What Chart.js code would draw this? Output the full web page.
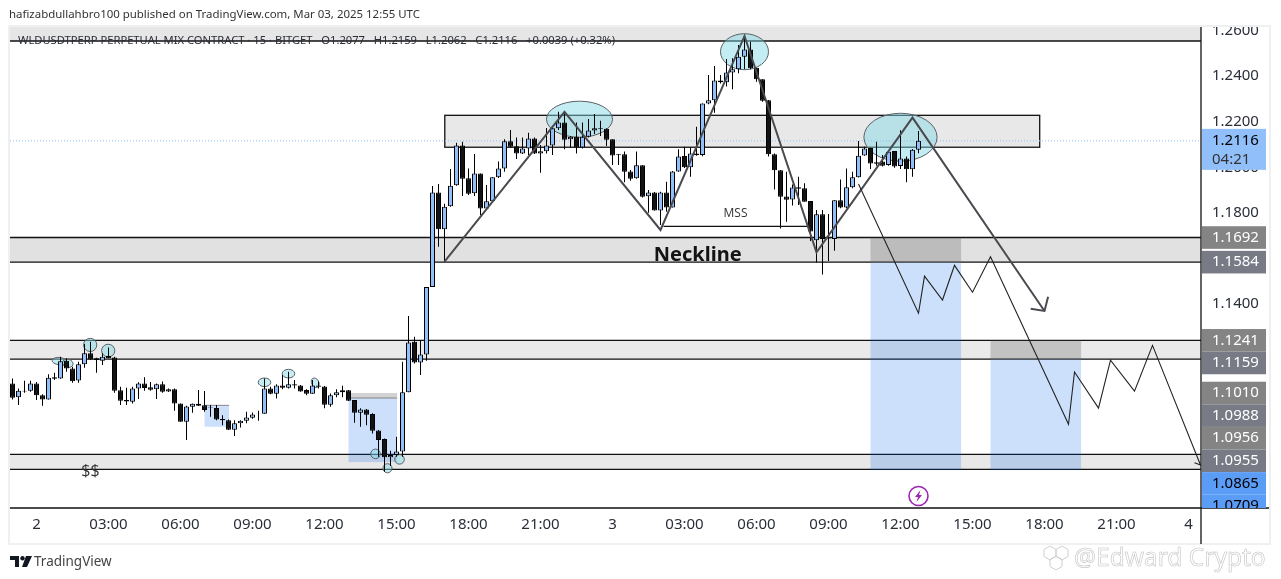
<!DOCTYPE html>
<html>
<head>
<meta charset="utf-8">
<title>WLDUSDTPERP 15m</title>
<script src="https://cdn.jsdelivr.net/npm/chart.js@4"></script>
<style>
  html, body { margin: 0; padding: 0; background: #fff; }
  #wrap { position: relative; width: 1281px; height: 579px; overflow: hidden; }
  canvas { position: absolute; left: 0; top: 0; }
  .note { position: absolute; white-space: nowrap; font-family: "Noto Sans", sans-serif; color: #333; }
  #published { left: 9px; top: 6px; font-size: 11.45px; }
  #brand { left: 34px; top: 552px; font-size: 13.5px; color: #444; }
  #logo { position: absolute; left: 10px; top: 556px; }
  #stamp { left: 1074px; top: 540px; font-size: 24.5px; color: #fff; -webkit-text-stroke: 0.6px #c4c4c4; }
  #hex { position: absolute; left: 1040px; top: 544px; }
</style>
</head>
<body>
<div id="wrap">
  <canvas id="chart" width="1281" height="579"></canvas>
  <div class="note" id="published">hafizabdullahbro100 published on TradingView.com, Mar 03, 2025 12:55 UTC</div>
  <svg id="logo" width="22" height="12" viewBox="0 0 22 12"><path d="M0 0h9v11H5V4H0zM16 0h6l-5 11h-5z" fill="#131722"/><circle cx="12.5" cy="2.2" r="2.2" fill="#131722"/></svg>
  <div class="note" id="brand">TradingView</div>
  <svg id="hex" width="32" height="26" viewBox="0 0 32 26" fill="none" stroke="#cfcfcf" stroke-width="1"><path d="M10 2l6 3.5v7L10 16l-6-3.5v-7zM22 2l6 3.5v7L22 16l-6-3.5v-7zM16 12l6 3.5v7L16 26l-6-3.5v-7z"/></svg>
  <div class="note" id="stamp">@Edward Crypto</div>
</div>
<script>
// 15 minute bars, bar 0 is the "2" tick, one tick label every 12 bars
const firstBar = -4;

const openPrices = [
  1.1052,1.0991,1.1020,1.1020,1.1052,1.1000,1.0982,1.1079,1.1074,1.1152,
  1.1118,1.1065,1.1136,1.1184,1.1162,1.1152,1.1172,1.1166,1.1022,1.0979,
  1.0972,1.1030,1.1052,1.1035,1.1026,1.1049,1.1017,1.1026,1.0964,1.0884,
  1.0950,1.0963,1.0956,1.0947,1.0944,1.0896,1.0891,1.0849,1.0877,1.0888,
  1.0902,1.0918,1.0919,1.1030,1.1007,1.1043,1.1033,1.1048,1.1043,1.1023,
  1.1007,1.1043,1.1039,1.0959,1.1000,1.1013,1.1022,1.0979,1.0924,1.0938,
  1.0918,1.0846,1.0808,1.0728,1.0738,1.0753,1.1013,1.1235,1.1144,1.1179,
  1.1475,1.1890,1.1728,1.1829,1.1921,1.2096,1.1952,1.1886,1.1973,1.1819,
  1.1851,1.1956,1.1995,1.2114,1.2092,1.2061,1.2083,1.2126,1.2061,1.2070,
  1.2096,1.2171,1.2197,1.2123,1.2134,1.2087,1.2134,1.2161,1.2172,1.2169,
  1.2123,1.2058,1.2057,1.1982,1.1952,1.2009,1.1873,1.1890,1.1811,1.1890,
  1.1824,1.1982,1.2050,1.2000,1.2061,1.2054,1.2280,1.2294,1.2381,1.2373,
  1.2416,1.2430,1.2485,1.2517,1.2437,1.2386,1.2294,1.2057,1.1987,1.1872,
  1.1859,1.1912,1.1908,1.1852,1.1680,1.1794,1.1688,1.1685,1.1855,1.1824,
  1.1912,1.1956,1.2052,1.2085,1.2022,1.2025,1.2010,1.2071,1.2006,1.2039,1.1991,1.2077
];
const highPrices = [
  1.1074,1.1030,1.1064,1.1064,1.1058,1.1005,1.1092,1.1099,1.1169,1.1162,
  1.1125,1.1147,1.1225,1.1235,1.1165,1.1184,1.1210,1.1169,1.1038,1.1033,
  1.1038,1.1057,1.1079,1.1058,1.1052,1.1060,1.1030,1.1030,1.0964,1.0954,
  1.0964,1.1023,1.1019,1.0957,1.0957,1.0913,1.0894,1.0891,1.0891,1.0928,
  1.0925,1.0932,1.1074,1.1038,1.1048,1.1089,1.1103,1.1067,1.1045,1.1026,
  1.1067,1.1060,1.1041,1.1008,1.1026,1.1042,1.1023,1.0979,1.0943,1.0940,
  1.0921,1.0848,1.0811,1.0757,1.0818,1.1147,1.1348,1.1257,1.1242,1.1475,
  1.1918,1.1927,1.1840,1.1993,1.2108,1.2112,1.1995,1.2058,1.1973,1.1922,
  1.1956,1.2025,1.2123,1.2164,1.2131,1.2131,1.2152,1.2131,1.2098,1.2172,
  1.2175,1.2244,1.2237,1.2137,1.2196,1.2197,1.2212,1.2234,1.2204,1.2171,
  1.2123,1.2058,1.2069,1.1988,1.2069,1.2009,1.1900,1.1892,1.1893,1.1937,
  1.1984,1.2079,1.2090,1.2087,1.2178,1.2280,1.2405,1.2444,1.2405,1.2475,
  1.2478,1.2536,1.2573,1.2551,1.2437,1.2386,1.2295,1.2061,1.1988,1.1981,
  1.1925,1.1959,1.1930,1.1852,1.1813,1.1813,1.1795,1.1856,1.1947,1.1995,
  1.1981,1.2115,1.2090,1.2086,1.2112,1.2054,1.2071,1.2071,1.2163,1.2047,1.2080,1.2159
];
const lowPrices = [
  1.0982,1.0957,1.1011,1.1016,1.0979,1.0954,1.0982,1.1067,1.1073,1.1103,
  1.1055,1.1055,1.1121,1.1155,1.1099,1.1133,1.1162,1.1011,1.0957,1.0957,
  1.0964,1.0984,1.1020,1.1020,1.0984,1.1011,1.1014,1.0932,1.0884,1.0804,
  1.0924,1.0953,1.0928,1.0906,1.0891,1.0869,1.0848,1.0821,1.0859,1.0877,
  1.0897,1.0888,1.0919,1.1005,1.0986,1.1026,1.1030,1.1030,1.1016,1.1000,
  1.1007,1.1030,1.0943,1.0950,1.0991,1.0991,1.0975,1.0880,1.0862,1.0869,
  1.0833,1.0731,1.0665,1.0690,1.0731,1.0731,1.1013,1.1140,1.1089,1.1152,
  1.1475,1.1652,1.1586,1.1827,1.1919,1.1874,1.1878,1.1874,1.1791,1.1819,
  1.1849,1.1953,1.1981,1.2087,1.2036,1.2058,1.2054,1.2058,1.1976,1.2061,
  1.2054,1.2164,1.2079,1.2087,1.2061,1.2083,1.2131,1.2146,1.2137,1.2093,
  1.2010,1.2010,1.1934,1.1941,1.1950,1.1868,1.1801,1.1810,1.1747,1.1805,
  1.1824,1.1981,1.1997,1.1959,1.2051,1.2048,1.2276,1.2239,1.2368,1.2354,
  1.2342,1.2412,1.2430,1.2430,1.2375,1.2288,1.2047,1.1903,1.1732,1.1761,
  1.1832,1.1835,1.1849,1.1677,1.1583,1.1530,1.1589,1.1634,1.1820,1.1820,
  1.1908,1.1955,1.2051,1.1992,1.2007,1.2003,1.2007,1.1998,1.1992,1.1934,1.1959,1.2062
];
const closePrices = [
  1.0989,1.1020,1.1017,1.1052,1.1000,1.0982,1.1077,1.1073,1.1149,1.1118,
  1.1062,1.1136,1.1184,1.1157,1.1155,1.1169,1.1163,1.1020,1.0976,1.0973,
  1.1030,1.1052,1.1032,1.1024,1.1048,1.1016,1.1026,1.0964,1.0884,1.0951,
  1.0963,1.0954,1.0935,1.0944,1.0894,1.0891,1.0849,1.0877,1.0888,1.0903,
  1.0916,1.0919,1.1030,1.1007,1.1043,1.1033,1.1048,1.1043,1.1017,1.1007,
  1.1043,1.1038,1.0959,1.1000,1.1013,1.1022,1.0976,1.0924,1.0938,1.0915,
  1.0845,1.0804,1.0728,1.0738,1.0753,1.1013,1.1232,1.1144,1.1179,1.1475,
  1.1890,1.1728,1.1827,1.1919,1.2096,1.1950,1.1884,1.1973,1.1819,1.1851,
  1.1956,1.1995,1.2114,1.2090,1.2060,1.2083,1.2126,1.2060,1.2070,1.2096,
  1.2171,1.2197,1.2121,1.2134,1.2087,1.2134,1.2161,1.2171,1.2169,1.2121,
  1.2052,1.2055,1.1981,1.1950,1.2009,1.1871,1.1889,1.1811,1.1890,1.1824,
  1.1982,1.2047,1.2000,1.2061,1.2054,1.2280,1.2294,1.2381,1.2373,1.2416,
  1.2430,1.2485,1.2517,1.2434,1.2386,1.2292,1.2057,1.1987,1.1871,1.1858,
  1.1911,1.1906,1.1849,1.1718,1.1794,1.1685,1.1685,1.1855,1.1824,1.1912,
  1.1956,1.2051,1.2083,1.2017,1.2016,1.2007,1.2068,1.2003,1.2039,1.1991,1.2077,1.2116
];

const timeLabels = ['2','03:00','06:00','09:00','12:00','15:00','18:00','21:00','3','03:00','06:00','09:00','12:00','15:00','18:00','21:00','4'];
const priceTicks = [1.26, 1.24, 1.22, 1.20, 1.18, 1.14];
const priceTags = [1.1692, 1.1584, 1.1241, 1.1159, 1.1010, 1.0988, 1.0956, 1.0955, 1.0865, 1.0709];

const legendText = 'WLDUSDTPERP PERPETUAL MIX CONTRACT · 15 · BITGET   O1.2077   H1.2159   L1.2062   C1.2116   +0.0039 (+0.32%)';

// drawings, as [bar, price]
const patternBars   = [68, 88, 104, 118, 130, 146, 168];
const patternPrices = [1.1586, 1.2243, 1.1725, 1.2576, 1.1627, 1.2218, 1.1370];
const arrowBars     = [165.7, 168, 168.6];
const arrowPrices   = [1.1380, 1.1370, 1.1432];
const pathBars      = [137, 147, 148, 151, 153, 156, 159, 172, 173, 177, 179, 183, 186, 194, 193];
const pathPrices    = [1.1927, 1.1360, 1.1523, 1.1418, 1.1570, 1.1452, 1.1608, 1.0873, 1.1102, 1.0944, 1.1154, 1.1018, 1.1219, 1.0694, 1.0704];
const mssBars       = [104.5, 128.7];
const mssPrices     = [1.1741, 1.1741];

// [top, bottom] price bands, these run the full width
const fullBands = [[1.2615, 1.2554, '#e6e6e6'], [1.1692, 1.1584, '#e1e1e1'], [1.1241, 1.1159, '#eaeaea'], [1.0741, 1.0675, '#e8e8e8']];
const supplyBox = [68.05, 167.2, 1.2228, 1.2088];
// [bar from, bar to, stop top, entry, target]
const tradeBoxes = [
  [28, 32.1, 1.0956, 1.0956, 1.0862],
  [52, 60.1, 1.1010, 1.0988, 1.0707],
  [139, 154.1, 1.1692, 1.1584, 1.0672],
  [159, 174.1, 1.1241, 1.1159, 1.0672]
];
// [bar, price, radius in bars, radius in price, tilt]
const marks = [
  [90.5, 1.2211, 5.5, 0.0079, 0], [118, 1.2507, 4, 0.0079, 0], [144, 1.2132, 6.1, 0.0105, 0],
  [3.8, 1.1150, 1.2, 0.0016, 0.1], [5.2, 1.1140, 0.9, 0.0018, 0.2], [8.95, 1.1221, 1.1, 0.0029, 0], [11.95, 1.1196, 1.1, 0.0028, 0],
  [38, 1.1057, 1.05, 0.0019, 0], [42, 1.1095, 1.05, 0.0019, 0], [46.45, 1.1055, 0.6, 0.0022, -0.5],
  [56.5, 1.0743, 0.8, 0.0021, 0], [58.5, 1.0680, 0.75, 0.002, 0], [60.5, 1.0719, 0.8, 0.0021, 0]
];

const FONT = '"Noto Sans", sans-serif';
const UP = '#90bff9';
const DOWN = '#131313';

function candleDatasets() {
  const wicks = [], bodies = [], colors = [];
  openPrices.forEach((open, n) => {
    const x = firstBar + n;
    const close = closePrices[n];
    wicks.push({ x, y: [lowPrices[n], highPrices[n]] });
    bodies.push({ x, y: [Math.min(open, close), Math.max(open, close)] });
    colors.push(close >= open ? UP : DOWN);
  });
  return [
    { type: 'bar', data: wicks, backgroundColor: '#000', barThickness: 1, grouped: false, order: 6, inflateAmount: 0 },
    { type: 'bar', data: bodies, backgroundColor: colors, borderColor: '#000', borderWidth: 1, borderSkipped: false, barThickness: 5, grouped: false, order: 5, inflateAmount: 0 }
  ];
}

function lineDataset(bars, prices, color, width, order, dash) {
  return {
    type: 'line',
    data: bars.map((x, n) => ({ x, y: prices[n] })),
    borderColor: color,
    borderWidth: width,
    borderDash: dash || [],
    pointRadius: 0,
    tension: 0,
    fill: false,
    order
  };
}

function fillBand(ctx, x0, x1, y0, y1, color) {
  ctx.fillStyle = color;
  ctx.fillRect(x0, y0, x1 - x0, y1 - y0);
}

function hLine(ctx, x0, x1, y, color, width) {
  ctx.strokeStyle = color;
  ctx.lineWidth = width;
  ctx.beginPath();
  ctx.moveTo(x0, y);
  ctx.lineTo(x1, y);
  ctx.stroke();
}

// zones, boxes and the circled swings go under the candles
const zonesPlugin = {
  id: 'zones',
  beforeDatasetsDraw(chart) {
    const { ctx, chartArea: area, scales: { x, y } } = chart;
    ctx.save();
    fullBands.forEach(([top, bottom, color], n) => {
      fillBand(ctx, area.left, area.right, y.getPixelForValue(top), y.getPixelForValue(bottom), color);
      if (n > 0) hLine(ctx, area.left, area.right, y.getPixelForValue(top), '#111', 1.3);
      hLine(ctx, area.left, area.right, y.getPixelForValue(bottom), '#111', 1.3);
    });

    const [b0, b1, top, bottom] = supplyBox;
    fillBand(ctx, x.getPixelForValue(b0), x.getPixelForValue(b1), y.getPixelForValue(top), y.getPixelForValue(bottom), '#e8e8e8');
    ctx.strokeStyle = '#111';
    ctx.lineWidth = 1.3;
    ctx.strokeRect(x.getPixelForValue(b0), y.getPixelForValue(top), x.getPixelForValue(b1) - x.getPixelForValue(b0), y.getPixelForValue(bottom) - y.getPixelForValue(top));

    tradeBoxes.forEach(([from, to, stop, entry, target]) => {
      const x0 = x.getPixelForValue(from), x1 = x.getPixelForValue(to);
      fillBand(ctx, x0, x1, y.getPixelForValue(stop), y.getPixelForValue(entry), 'rgba(90,90,90,0.27)');
      fillBand(ctx, x0, x1, y.getPixelForValue(entry), y.getPixelForValue(target), 'rgba(0,100,235,0.2)');
      hLine(ctx, x0, x1, y.getPixelForValue(entry), 'rgba(110,110,110,0.8)', 1);
    });

    marks.forEach(([bar, price, rx, ry, tilt]) => {
      const cx = x.getPixelForValue(bar), cy = y.getPixelForValue(price);
      ctx.beginPath();
      ctx.ellipse(cx, cy, x.getPixelForValue(bar + rx) - cx, cy - y.getPixelForValue(price + ry), tilt, 0, Math.PI * 2);
      ctx.fillStyle = 'rgba(128,216,230,0.47)';
      ctx.fill();
      ctx.strokeStyle = '#5a6066';
      ctx.lineWidth = 1;
      ctx.stroke();
    });
    ctx.restore();
  },
  afterDatasetsDraw(chart) {
    const { ctx, scales: { x, y } } = chart;
    ctx.save();

    // text notes on the price pane
    ctx.textAlign = 'center';
    ctx.textBaseline = 'middle';
    ctx.fillStyle = '#131313';
    ctx.font = 'bold 20px ' + FONT;
    ctx.fillText('Neckline', x.getPixelForValue(110.2), y.getPixelForValue(1.1615));
    ctx.font = '12px "Open Sans", sans-serif';
    ctx.fillStyle = '#333';
    ctx.fillText('MSS', x.getPixelForValue(116.5), y.getPixelForValue(1.1796));
    ctx.font = '16px "Open Sans", sans-serif';
    ctx.fillText('$$', x.getPixelForValue(9), y.getPixelForValue(1.0666));

    // alert icon
    const ax = x.getPixelForValue(147), ay = 496;
    ctx.beginPath();
    ctx.arc(ax, ay, 9.5, 0, Math.PI * 2);
    ctx.strokeStyle = '#9c27b0';
    ctx.lineWidth = 1.6;
    ctx.stroke();
    ctx.fillStyle = '#9c27b0';
    ctx.beginPath();
    ctx.moveTo(ax + 2, ay - 6);
    ctx.lineTo(ax - 3.5, ay + 1);
    ctx.lineTo(ax - 0.5, ay + 1);
    ctx.lineTo(ax - 2, ay + 6);
    ctx.lineTo(ax + 3.5, ay - 1);
    ctx.lineTo(ax + 0.5, ay - 1);
    ctx.closePath();
    ctx.fill();

    // legend line sits on the top band
    ctx.textAlign = 'left';
    ctx.font = '11.2px ' + FONT;
    ctx.fillStyle = '#2a2e39';
    ctx.fillText(legendText, 18, 41);
    ctx.restore();
  },
  afterDraw(chart) {
    const { ctx, chartArea: area, scales: { y } } = chart;
    ctx.save();

    // frame and the axis lines
    fillBand(ctx, area.right + 1, 1281, 0, area.top - 1, '#fff');
    ctx.strokeStyle = '#eff0f2';
    ctx.lineWidth = 2;
    ctx.strokeRect(area.left - 1, area.top - 1, 1271 - area.left, 545 - area.top);
    hLine(ctx, area.left, 1269, area.bottom, '#111', 1.3);
    ctx.strokeStyle = '#111';
    ctx.lineWidth = 1.3;
    ctx.beginPath();
    ctx.moveTo(area.right, area.top);
    ctx.lineTo(area.right, 544);
    ctx.stroke();

    // price tags stack downwards when they would overlap
    ctx.beginPath();
    ctx.rect(area.right, area.top, 80, area.bottom - area.top);
    ctx.clip();
    const tagX = area.right + 1, tagW = 64, tagH = 22.6;
    ctx.font = '15px ' + FONT;
    ctx.textAlign = 'left';
    ctx.textBaseline = 'middle';
    let prev = -100;
    priceTags.forEach((price, n) => {
      const cy = Math.max(y.getPixelForValue(price), prev + tagH);
      prev = cy;
      const blue = n >= 8;
      fillBand(ctx, tagX, tagX + tagW, cy - tagH / 2, cy + tagH / 2, blue ? '#5b9cf6' : (n % 2 === 0 ? '#848484' : '#787b86'));
      ctx.fillStyle = blue ? '#000' : '#fff';
      ctx.fillText(price.toFixed(4), area.right + 11, cy);
    });

    const last = closePrices[closePrices.length - 1];
    const ly = y.getPixelForValue(last);
    fillBand(ctx, tagX, tagX + tagW, ly - 12, ly + 29, UP);
    ctx.fillStyle = '#000';
    ctx.fillText(last.toFixed(4), area.right + 11, ly);
    ctx.fillStyle = '#333';
    ctx.fillText('04:21', area.right + 11, ly + 19);
    ctx.restore();
  }
};

function renderChart() {
  // half pixel offset keeps the 1px wicks and 5px bodies crisp
  const xMin = (10 - 36.5) / 6, xMax = (1201 - 36.5) / 6;
  const last = closePrices[closePrices.length - 1];
  const canvas = document.getElementById('chart');

  new Chart(canvas, {
    type: 'bar',
    data: {
      datasets: [
        ...candleDatasets(),
        lineDataset([xMin, xMax], [last, last], UP, 1, 7, [1, 2]),
        lineDataset(patternBars, patternPrices, '#4a4a50', 2, 3),
        lineDataset(arrowBars, arrowPrices, '#4a4a50', 2, 3),
        lineDataset(pathBars, pathPrices, '#222', 1.1, 2),
        lineDataset(mssBars, mssPrices, '#111', 1.1, 4)
      ]
    },
    options: {
      responsive: false,
      animation: false,
      devicePixelRatio: 1,
      layout: { padding: { left: 10, top: 27, right: 11, bottom: 35 } },
      plugins: { legend: { display: false }, tooltip: { enabled: false } },
      scales: {
        x: {
          type: 'linear',
          min: xMin,
          max: xMax,
          offset: false,
          grid: { display: false, offset: false, drawTicks: false },
          border: { display: false },
          afterFit: (scale) => { scale.height = 36; },
          afterBuildTicks: (scale) => { scale.ticks = timeLabels.map((t, k) => ({ value: k * 12 })); },
          ticks: {
            autoSkip: false,
            maxRotation: 0,
            padding: 8,
            color: '#2a2e39',
            font: { family: FONT, size: 15 },
            callback: (val) => timeLabels[val / 12]
          }
        },
        y: {
          position: 'right',
          min: 1.26 - (508 - 30.5) / 2280,
          max: 1.26 + 3.5 / 2280,
          grid: { display: false, drawTicks: false },
          border: { display: false },
          afterFit: (scale) => { scale.width = 69; },
          afterBuildTicks: (scale) => { scale.ticks = priceTicks.map(value => ({ value })); },
          ticks: {
            padding: 11,
            color: '#2a2e39',
            font: { family: FONT, size: 15 },
            callback: (val) => val.toFixed(4)
          }
        }
      }
    },
    plugins: [zonesPlugin]
  });
}

renderChart();
</script>
</body>
</html>
